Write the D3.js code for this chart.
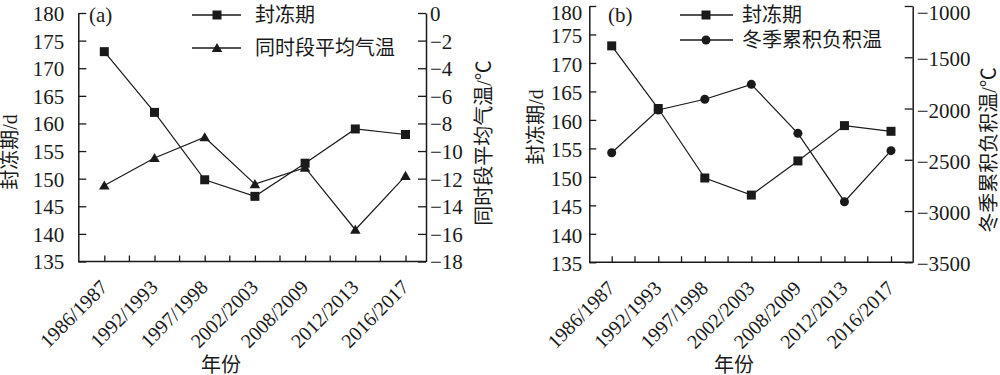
<!DOCTYPE html>
<html><head><meta charset="utf-8">
<script src="https://cdn.jsdelivr.net/npm/d3@7"></script>
<style>body{margin:0;background:#fff}svg{display:block;background:#fff}</style>
</head><body><svg id="c" width="1000" height="375"></svg>
<script>
// ---- data ----
const categories = ["1986/1987","1992/1993","1997/1998","2002/2003","2008/2009","2012/2013","2016/2017"];
const freezeDays = [173.0, 162.0, 149.8, 146.8, 152.8, 159.0, 158.0];
const meanTemp   = [-12.5, -10.5, -9.0, -12.4, -11.2, -15.7, -11.8];
const negAccTemp = [-2431, -2014, -1910, -1764, -2242, -2909, -2411];
const freezeTicks = [135,140,145,150,155,160,165,170,175,180];
const tempTicks   = [0,-2,-4,-6,-8,-10,-12,-14,-16,-18];
const accTicks    = [-1000,-1500,-2000,-2500,-3000,-3500];
const freezeName = "封冻期";
const tempName = "同时段平均气温";
const accName = "冬季累积负积温";
const freezeTitle = "封冻期/d";
const tempTitle = "同时段平均气温/℃";
const accTitle = "冬季累积负积温/℃";
const xTitle = "年份";

const svg = d3.select("#c");
const ink = "#1a1a1a";
const serif = "'Liberation Serif','Times New Roman',serif";
const mixed = "'Liberation Serif','Noto Sans CJK SC',serif";
const fmt = d3.format("d");
const TF = 21; // tick font size

function marker(sel, type, size) {
  const sym = type === "square" ? d3.symbolSquare : type === "triangle" ? d3.symbolTriangle : d3.symbolCircle;
  return sel.attr("d", d3.symbol().type(sym).size(size)).attr("fill", ink);
}

function panel(o) {
  const g = svg.append("g");
  const x = d3.scalePoint().domain(categories).range([o.cx0, o.cx1]);
  const yL = d3.scaleLinear().domain([135, 180]).range([o.y1, o.y0]);
  const yR = d3.scaleLinear().domain(o.rDomain).range([o.y1, o.y0]);

  // x axis (major ticks + labels)
  const ax = g.append("g").attr("transform", `translate(0,${o.y1})`)
    .call(d3.axisBottom(x).tickSizeInner(-6).tickSizeOuter(0).tickPadding(0));
  ax.select(".domain").remove();
  ax.selectAll(".tick line").attr("stroke", ink).attr("stroke-width", 1.3);
  ax.selectAll(".tick text")
    .attr("font-family", serif).attr("font-size", 20).attr("fill", ink)
    .attr("text-anchor", "end").attr("dy", null).attr("y", null)
    .attr("transform", "translate(4,27) rotate(-45)");
  // minor ticks at midpoints
  const mids = categories.slice(1).map((c, i) => (x(categories[i]) + x(c)) / 2);
  g.selectAll(".minor").data(mids).join("line")
    .attr("x1", d => d).attr("x2", d => d).attr("y1", o.y1).attr("y2", o.y1 - 6)
    .attr("stroke", ink).attr("stroke-width", 1.3);
  g.append("line").attr("x1", o.x0).attr("x2", o.x1).attr("y1", o.y1).attr("y2", o.y1)
    .attr("stroke", ink).attr("stroke-width", 1.5);

  // left axis
  const al = g.append("g").attr("transform", `translate(${o.x0},0)`)
    .call(d3.axisLeft(yL).tickValues(freezeTicks).tickFormat(fmt).tickSizeInner(-o.tickL).tickSizeOuter(0).tickPadding(o.padL));
  // right axis
  const ar = g.append("g").attr("transform", `translate(${o.x1},0)`)
    .call(d3.axisRight(yR).tickValues(o.rTicks).tickFormat(fmt).tickSizeInner(-o.tickR).tickSizeOuter(0).tickPadding(o.padR));
  [[al, yL], [ar, yR]].forEach(([a, s]) => {
    a.select(".domain").attr("stroke", ink).attr("stroke-width", 1.5);
    a.selectAll(".tick line").attr("stroke", ink).attr("stroke-width", 1.3);
    a.selectAll(".tick text").attr("font-family", serif).attr("font-size", TF).attr("fill", ink)
      .attr("dy", null)
      .attr("y", d => Math.max(o.tdy, 19 - s(d)));
  });

  // series
  const line = (ys, vals) => d3.line().x((d, i) => x(categories[i])).y(d => ys(d))(vals);
  g.append("path").attr("d", line(yR, o.rVals)).attr("fill", "none").attr("stroke", ink).attr("stroke-width", 1.2);
  g.append("path").attr("d", line(yL, freezeDays)).attr("fill", "none").attr("stroke", ink).attr("stroke-width", 1.2);
  g.selectAll(".mr").data(o.rVals).join("path")
    .attr("transform", (d, i) => `translate(${x(categories[i])},${yR(d) + (o.rType === "triangle" ? 1 : 0)})`)
    .call(s => marker(s, o.rType, o.rSize));
  g.selectAll(".ml").data(freezeDays).join("path")
    .attr("transform", (d, i) => `translate(${x(categories[i])},${yL(d)})`)
    .call(s => marker(s, "square", 81));

  // legend
  const leg = [{name: freezeName, type: "square", size: 81, y: o.legY[0]},
               {name: o.rName, type: o.rType, size: o.rSize, y: o.legY[1]}];
  leg.forEach(l => {
    g.append("line").attr("x1", o.legX[0]).attr("x2", o.legX[1]).attr("y1", l.y).attr("y2", l.y)
      .attr("stroke", ink).attr("stroke-width", 1.3);
    g.append("path").attr("transform", `translate(${o.legM},${l.y + (l.type === "triangle" ? 1 : 0)})`)
      .call(s => marker(s, l.type, l.size));
    g.append("text").attr("x", o.legT).attr("y", l.y).attr("dy", "0.36em")
      .attr("font-family", mixed).attr("font-size", 20).attr("fill", ink).text(l.name);
  });

  // panel tag
  g.append("text").attr("x", o.tagX).attr("y", 15).attr("dy", "0.33em")
    .attr("font-family", serif).attr("font-size", 21).attr("fill", ink).text(o.tag);

  // titles
  const vt = (cx, cy, t) => g.append("text")
    .attr("transform", `translate(${cx},${cy}) rotate(-90)`)
    .attr("text-anchor", "middle").attr("dy", "0.36em")
    .attr("font-family", mixed).attr("font-size", 20).attr("fill", ink).text(t);
  vt(o.tL[0], o.tL[1], freezeTitle);
  vt(o.tR[0], o.tR[1], o.rTitle);
  g.append("text").attr("x", o.tX[0]).attr("y", o.tX[1]).attr("text-anchor", "middle").attr("dy", "0.36em")
    .attr("font-family", mixed).attr("font-size", 20).attr("fill", ink).text(xTitle);
}

panel({
  x0: 78.3, x1: 426, y0: 13, y1: 261.5, cx0: 104.3, cx1: 405.5,
  rDomain: [-18, 0], rTicks: tempTicks, rVals: meanTemp, rType: "triangle", rSize: 48, rName: tempName, rTitle: tempTitle,
  tickL: 8, tickR: 8, padL: 14, padR: 4, tdy: 7.4,
  legX: [192, 241], legM: 217, legT: 255, legY: [15, 48],
  tag: "(a)", tagX: 89,
  tL: [10, 152], tR: [484, 143], tX: [221, 364.5]
});
panel({
  x0: 589.3, x1: 912.7, y0: 6, y1: 262.3, cx0: 611.7, cx1: 891,
  rDomain: [-3500, -1000], rTicks: accTicks, rVals: negAccTemp, rType: "circle", rSize: 64, rName: accName, rTitle: accTitle,
  tickL: 7, tickR: 8, padL: 7, padR: 4, tdy: 8.5,
  legX: [680, 733], legM: 706, legT: 742, legY: [15, 40],
  tag: "(b)", tagX: 608,
  tL: [536, 127], tR: [989, 150], tX: [734, 364.5]
});
</script></body></html>
